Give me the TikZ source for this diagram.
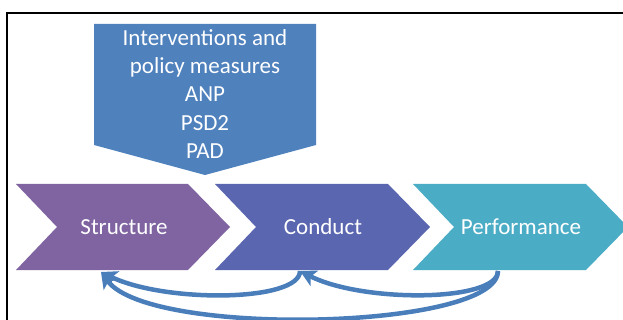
\documentclass[tikz,border=0pt]{standalone}
\usepackage{fontspec}
\setmainfont{Carlito}
\usetikzlibrary{arrows.meta}
\definecolor{topblue}{HTML}{4F81BD}
\definecolor{cpurple}{HTML}{8064A2}
\definecolor{cindigo}{HTML}{5A66B0}
\definecolor{cteal}{HTML}{4BACC6}
\definecolor{arrowblue}{HTML}{4A7EBB}
\tikzset{
  lbl/.style={text=white, font=\fontsize{23}{28.3}\selectfont, align=center, inner sep=0pt},
  conn/.style={draw=arrowblue, line width=4.5pt, -{Stealth[length=16pt,width=17pt,inset=4pt]}},
}
\begin{document}
\begin{tikzpicture}[x=1pt,y=-1pt]
\useasboundingbox (0,0) rectangle (623,320);
% frame
\draw[line width=1.5pt, black] (7,13) rectangle (660,360);
% top box
\fill[topblue] (94,24) -- (316,24) -- (316,145) -- (205,175) -- (94,145) -- cycle;
\node[lbl] (policy) at (205,94) {Interventions and\\policy measures\\ANP\\PSD2\\PAD};
% chevrons
\fill[cpurple] (16,184) -- (188,184) -- (230,227) -- (188,270) -- (16,270) -- (57,227) -- cycle;
\fill[cindigo] (215,184) -- (388,184) -- (430,227) -- (388,270) -- (215,270) -- (256,227) -- cycle;
\fill[cteal] (413,184) -- (586,184) -- (628,227) -- (586,270) -- (413,270) -- (454,227) -- cycle;
\node[lbl] (structure) at (124,227) {Structure};
\node[lbl] (conduct) at (323,227) {Conduct};
\node[lbl] (performance) at (521,227) {Performance};
% connector anchors
\coordinate (sS) at (101,272);
\coordinate (sC) at (300,271);
\coordinate (sP) at (498,271);
% curved arrows
\draw[conn] (sC) .. controls (300,302) and (165,303) .. (sS);
\draw[conn] (sP) .. controls (498,302) and (363,303) .. (sC);
\draw[conn] (sP) .. controls (498,330) and (150,338) .. (sS);
\end{tikzpicture}
\end{document}
